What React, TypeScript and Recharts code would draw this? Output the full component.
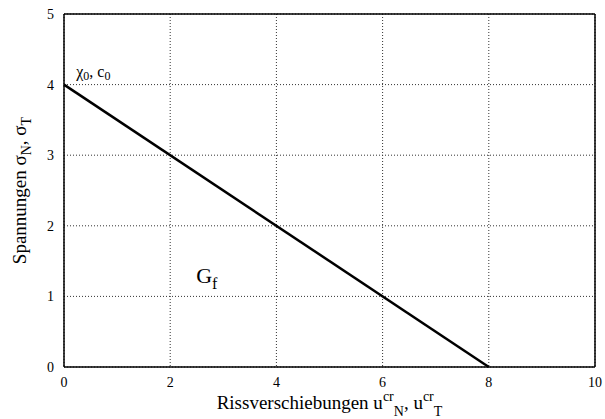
import React from "react";
import {
  LineChart,
  Line,
  XAxis,
  YAxis,
  CartesianGrid,
  ReferenceDot,
  Label,
} from "recharts";

// Crack opening u (x) vs. stress sigma (y): linear softening branch
const displacements = [0, 8];
const stresses = [4, 0];
const xTicks = [0, 2, 4, 6, 8, 10];
const yTicks = [0, 1, 2, 3, 4, 5];

// Annotation anchor points in data units
const peakNote = { x: 0.23, y: 4.11 };
const energyNote = { x: 2.49, y: 1.19 };

const data = displacements.map((u, i) => ({ u, s: stresses[i] }));

const serif: React.CSSProperties = { fontFamily: "Liberation Serif, Times New Roman, serif" };

const XTick = (props: any) => {
  const { x, y, payload } = props;
  return (
    <text x={x} y={y + 9} textAnchor="middle" style={serif} fontSize={14} fill="#000">
      {payload.value}
    </text>
  );
};

const YTick = (props: any) => {
  const { x, y, payload } = props;
  return (
    <text x={x} y={y + 5} textAnchor="end" style={serif} fontSize={14} fill="#000">
      {payload.value}
    </text>
  );
};

const XTitle = (props: any) => {
  const { viewBox } = props;
  const cx = viewBox.x + viewBox.width / 2;
  const by = viewBox.y + 42;
  return (
    <text x={cx} y={by} textAnchor="middle" style={serif} fontSize={19} fill="#000">
      Rissverschiebungen u
      <tspan dy={-8} fontSize={14}>cr</tspan>
      <tspan dy={15} fontSize={14}>N</tspan>
      <tspan dy={-7}>, u</tspan>
      <tspan dy={-8} fontSize={14}>cr</tspan>
      <tspan dy={15} fontSize={14}>T</tspan>
    </text>
  );
};

const YTitle = (props: any) => {
  const { viewBox } = props;
  const cy = viewBox.y + viewBox.height / 2;
  const bx = 26;
  return (
    <text
      x={bx}
      y={cy}
      transform={`rotate(-90, ${bx}, ${cy})`}
      textAnchor="middle"
      style={serif}
      fontSize={19}
      fill="#000"
    >
      Spannungen σ
      <tspan dy={5} fontSize={14}>N</tspan>
      <tspan dy={-5}>, σ</tspan>
      <tspan dy={5} fontSize={14}>T</tspan>
    </text>
  );
};

const PeakText = (props: any) => {
  const { cx, cy } = props;
  return (
    <text x={cx} y={cy} style={serif} fontSize={16} fill="#000">
      χ
      <tspan dy={3} fontSize={12}>0</tspan>
      <tspan dy={-3}>, c</tspan>
      <tspan dy={3} fontSize={12}>0</tspan>
    </text>
  );
};

const EnergyText = (props: any) => {
  const { cx, cy } = props;
  return (
    <text x={cx} y={cy} style={serif} fontSize={22} fill="#000">
      G
      <tspan dy={6} fontSize={16}>f</tspan>
    </text>
  );
};

export default function App() {
  return (
    <div style={{ position: "absolute", left: 0, top: 0, width: 605, height: 419, background: "#fff" }}>
      <LineChart
        width={605}
        height={419}
        data={data}
        margin={{ top: 14, right: 10, bottom: 0, left: 0 }}
      >
        <CartesianGrid stroke="#333" strokeDasharray="1 2" strokeWidth={1} />
        <XAxis
          dataKey="u"
          type="number"
          domain={[0, 10]}
          ticks={xTicks}
          height={52}
          tickLine={false}
          tickSize={0}
          tickMargin={11}
          tick={<XTick />}
          axisLine={{ stroke: "#000", strokeWidth: 1.5 }}
          interval={0}
        >
          <Label content={<XTitle />} />
        </XAxis>
        <YAxis
          type="number"
          domain={[0, 5]}
          ticks={yTicks}
          width={64}
          tickLine={false}
          tickSize={0}
          tickMargin={10}
          tick={<YTick />}
          axisLine={{ stroke: "#000", strokeWidth: 1.5 }}
          interval={0}
        >
          <Label content={<YTitle />} />
        </YAxis>
        {/* inward tick marks and top/right frame */}
        <XAxis
          xAxisId="top"
          orientation="top"
          type="number"
          domain={[0, 10]}
          ticks={xTicks}
          mirror
          tick={false}
          tickSize={6}
          tickLine={{ stroke: "#000" }}
          axisLine={{ stroke: "#000", strokeWidth: 1.5 }}
          interval={0}
        />
        <XAxis
          xAxisId="bottomIn"
          orientation="bottom"
          type="number"
          domain={[0, 10]}
          ticks={xTicks}
          mirror
          tick={false}
          tickSize={6}
          tickLine={{ stroke: "#000" }}
          axisLine={false}
          interval={0}
        />
        <YAxis
          yAxisId="right"
          orientation="right"
          type="number"
          domain={[0, 5]}
          ticks={yTicks}
          mirror
          tick={false}
          tickSize={6}
          tickLine={{ stroke: "#000" }}
          axisLine={{ stroke: "#000", strokeWidth: 1.5 }}
          interval={0}
        />
        <YAxis
          yAxisId="leftIn"
          orientation="left"
          type="number"
          domain={[0, 5]}
          ticks={yTicks}
          mirror
          tick={false}
          tickSize={6}
          tickLine={{ stroke: "#000" }}
          axisLine={false}
          interval={0}
        />
        <Line
          dataKey="s"
          stroke="#000"
          strokeWidth={2.5}
          dot={false}
          isAnimationActive={false}
          type="linear"
        />
        <ReferenceDot x={peakNote.x} y={peakNote.y} r={0} shape={<PeakText />} />
        <ReferenceDot x={energyNote.x} y={energyNote.y} r={0} shape={<EnergyText />} />
      </LineChart>
    </div>
  );
}
